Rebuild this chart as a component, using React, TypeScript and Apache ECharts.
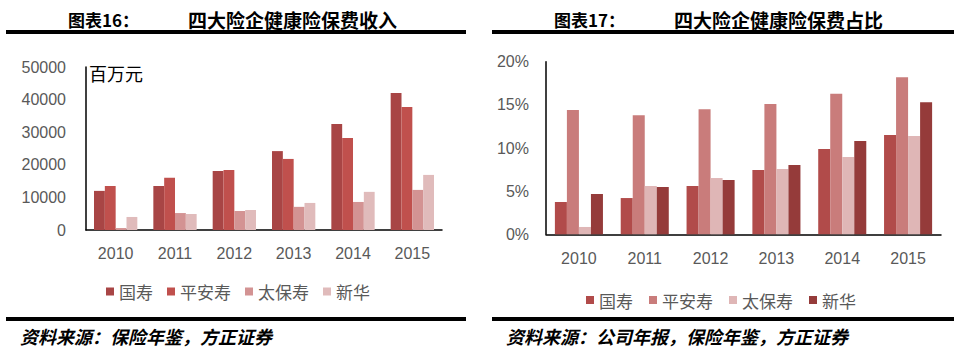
import React, { useEffect, useRef } from "react";
import * as echarts from "echarts";

const years = ["2010", "2011", "2012", "2013", "2014", "2015"];
const seriesNames = ["国寿", "平安寿", "太保寿", "新华"];

// 保费收入（百万元）
const premiumGuoshou = [12000, 13500, 18100, 24200, 32500, 42000];
const premiumPingan = [13500, 16000, 18400, 21800, 28200, 37700];
const premiumTaibao = [600, 5200, 5800, 7100, 8600, 12300];
const premiumXinhua = [4000, 4900, 6100, 8300, 11700, 16900];

// 保费占比（%）
const shareGuoshou = [3.74, 4.2, 5.6, 7.45, 9.88, 11.5];
const sharePingan = [14.4, 13.8, 14.5, 15.1, 16.3, 18.2];
const shareTaibao = [0.85, 5.6, 6.52, 7.56, 8.96, 11.4];
const shareXinhua = [4.67, 5.48, 6.29, 8.03, 10.8, 15.3];

const leftColors = ["#A84545", "#C0504D", "#D39393", "#E0BBBB"];
const rightColors = ["#B14B4A", "#C97C7B", "#DFB6B6", "#953B3A"];

const premiumData = [premiumGuoshou, premiumPingan, premiumTaibao, premiumXinhua];
const shareData = [shareGuoshou, sharePingan, shareTaibao, shareXinhua];

const FONT_NUM = "Liberation Sans";
const FONT_CJK = "Noto Sans CJK SC";

export default function App() {
  const ref = useRef<HTMLDivElement>(null);

  useEffect(() => {
    if (!ref.current) return;
    const chart = echarts.init(ref.current, undefined, { renderer: "svg" });

    const axisLabelStyle = { color: "#595959", fontSize: 16, fontFamily: FONT_NUM };
    const axisLineStyle = { show: true, lineStyle: { color: "#000", width: 1.5 } };

    const series: any[] = [];
    premiumData.forEach((d, i) => {
      series.push({
        type: "bar",
        name: seriesNames[i],
        xAxisIndex: 0,
        yAxisIndex: 0,
        data: d,
        barGap: "0%",
        barCategoryGap: "27%",
        itemStyle: { color: leftColors[i] },
      });
    });
    shareData.forEach((d, i) => {
      series.push({
        type: "bar",
        name: seriesNames[i],
        xAxisIndex: 1,
        yAxisIndex: 1,
        data: d,
        barGap: "0%",
        barCategoryGap: "27%",
        itemStyle: { color: rightColors[i] },
      });
    });

    const legendBase = {
      orient: "horizontal",
      icon: "rect",
      itemWidth: 8,
      itemHeight: 8,
      padding: 0,
      selectedMode: false,
      textStyle: { color: "#595959", fontSize: 17, fontFamily: FONT_CJK },
    };

    chart.setOption({
      animation: false,
      backgroundColor: "#fff",
      grid: [
        { left: 86, top: 67, width: 356, height: 163 },
        { left: 546, top: 61.7, width: 395, height: 172.6 },
      ],
      xAxis: [
        {
          type: "category",
          gridIndex: 0,
          data: years,
          axisLine: axisLineStyle,
          axisTick: { show: false },
          axisLabel: { ...axisLabelStyle, margin: 15 },
        },
        {
          type: "category",
          gridIndex: 1,
          data: years,
          axisLine: axisLineStyle,
          axisTick: { show: false },
          axisLabel: { ...axisLabelStyle, margin: 16 },
        },
      ],
      yAxis: [
        {
          type: "value",
          gridIndex: 0,
          min: 0,
          max: 50000,
          interval: 10000,
          axisLine: axisLineStyle,
          axisTick: { show: false },
          splitLine: { show: false },
          axisLabel: { ...axisLabelStyle, margin: 20, formatter: (v: number) => String(v) },
        },
        {
          type: "value",
          gridIndex: 1,
          min: 0,
          max: 20,
          interval: 5,
          axisLine: axisLineStyle,
          axisTick: { show: false },
          splitLine: { show: false },
          axisLabel: { ...axisLabelStyle, margin: 17, formatter: (v: number) => v + "%" },
        },
      ],
      legend: [
        {
          ...legendBase,
          left: 106,
          top: 283,
          itemGap: 14,
          data: seriesNames.map((n, i) => ({ name: n, itemStyle: { color: leftColors[i] } })),
        },
        {
          ...legendBase,
          left: 586,
          top: 291.5,
          itemGap: 16,
          data: seriesNames.map((n, i) => ({ name: n, itemStyle: { color: rightColors[i] } })),
        },
      ],
      graphic: [
        { type: "rect", shape: { x: 6, y: 30, width: 460, height: 4 }, style: { fill: "#000" } },
        { type: "rect", shape: { x: 492, y: 30, width: 462, height: 4 }, style: { fill: "#000" } },
        { type: "rect", shape: { x: 6, y: 317, width: 460, height: 4 }, style: { fill: "#000" } },
        { type: "rect", shape: { x: 492, y: 317, width: 462, height: 4 }, style: { fill: "#000" } },
        {
          type: "text",
          x: 68,
          y: 19,
          style: { text: "图表16：", fill: "#000", fontSize: 17, fontWeight: "bold", fontFamily: FONT_CJK, verticalAlign: "middle" },
        },
        {
          type: "text",
          x: 188,
          y: 19,
          style: { text: "四大险企健康险保费收入", fill: "#000", fontSize: 19, fontWeight: "bold", fontFamily: FONT_CJK, verticalAlign: "middle" },
        },
        {
          type: "text",
          x: 554,
          y: 19,
          style: { text: "图表17：", fill: "#000", fontSize: 17, fontWeight: "bold", fontFamily: FONT_CJK, verticalAlign: "middle" },
        },
        {
          type: "text",
          x: 674,
          y: 19,
          style: { text: "四大险企健康险保费占比", fill: "#000", fontSize: 19, fontWeight: "bold", fontFamily: FONT_CJK, verticalAlign: "middle" },
        },
        {
          type: "text",
          x: 89,
          y: 73,
          style: { text: "百万元", fill: "#000", fontSize: 18, fontFamily: FONT_CJK, verticalAlign: "middle" },
        },
        {
          type: "text",
          x: 20,
          y: 336,
          style: { text: "资料来源：保险年鉴，方正证券", fill: "#000", fontSize: 18, fontStyle: "italic", fontWeight: "bold", fontFamily: FONT_CJK, verticalAlign: "middle" },
        },
        {
          type: "text",
          x: 506,
          y: 336,
          style: { text: "资料来源：公司年报，保险年鉴，方正证券", fill: "#000", fontSize: 18, fontStyle: "italic", fontWeight: "bold", fontFamily: FONT_CJK, verticalAlign: "middle" },
        },
      ],
      series,
    });

    return () => {
      chart.dispose();
    };
  }, []);

  return (
    <div
      ref={ref}
      style={{ position: "absolute", left: 0, top: 0, width: 972, height: 354 }}
    />
  );
}
